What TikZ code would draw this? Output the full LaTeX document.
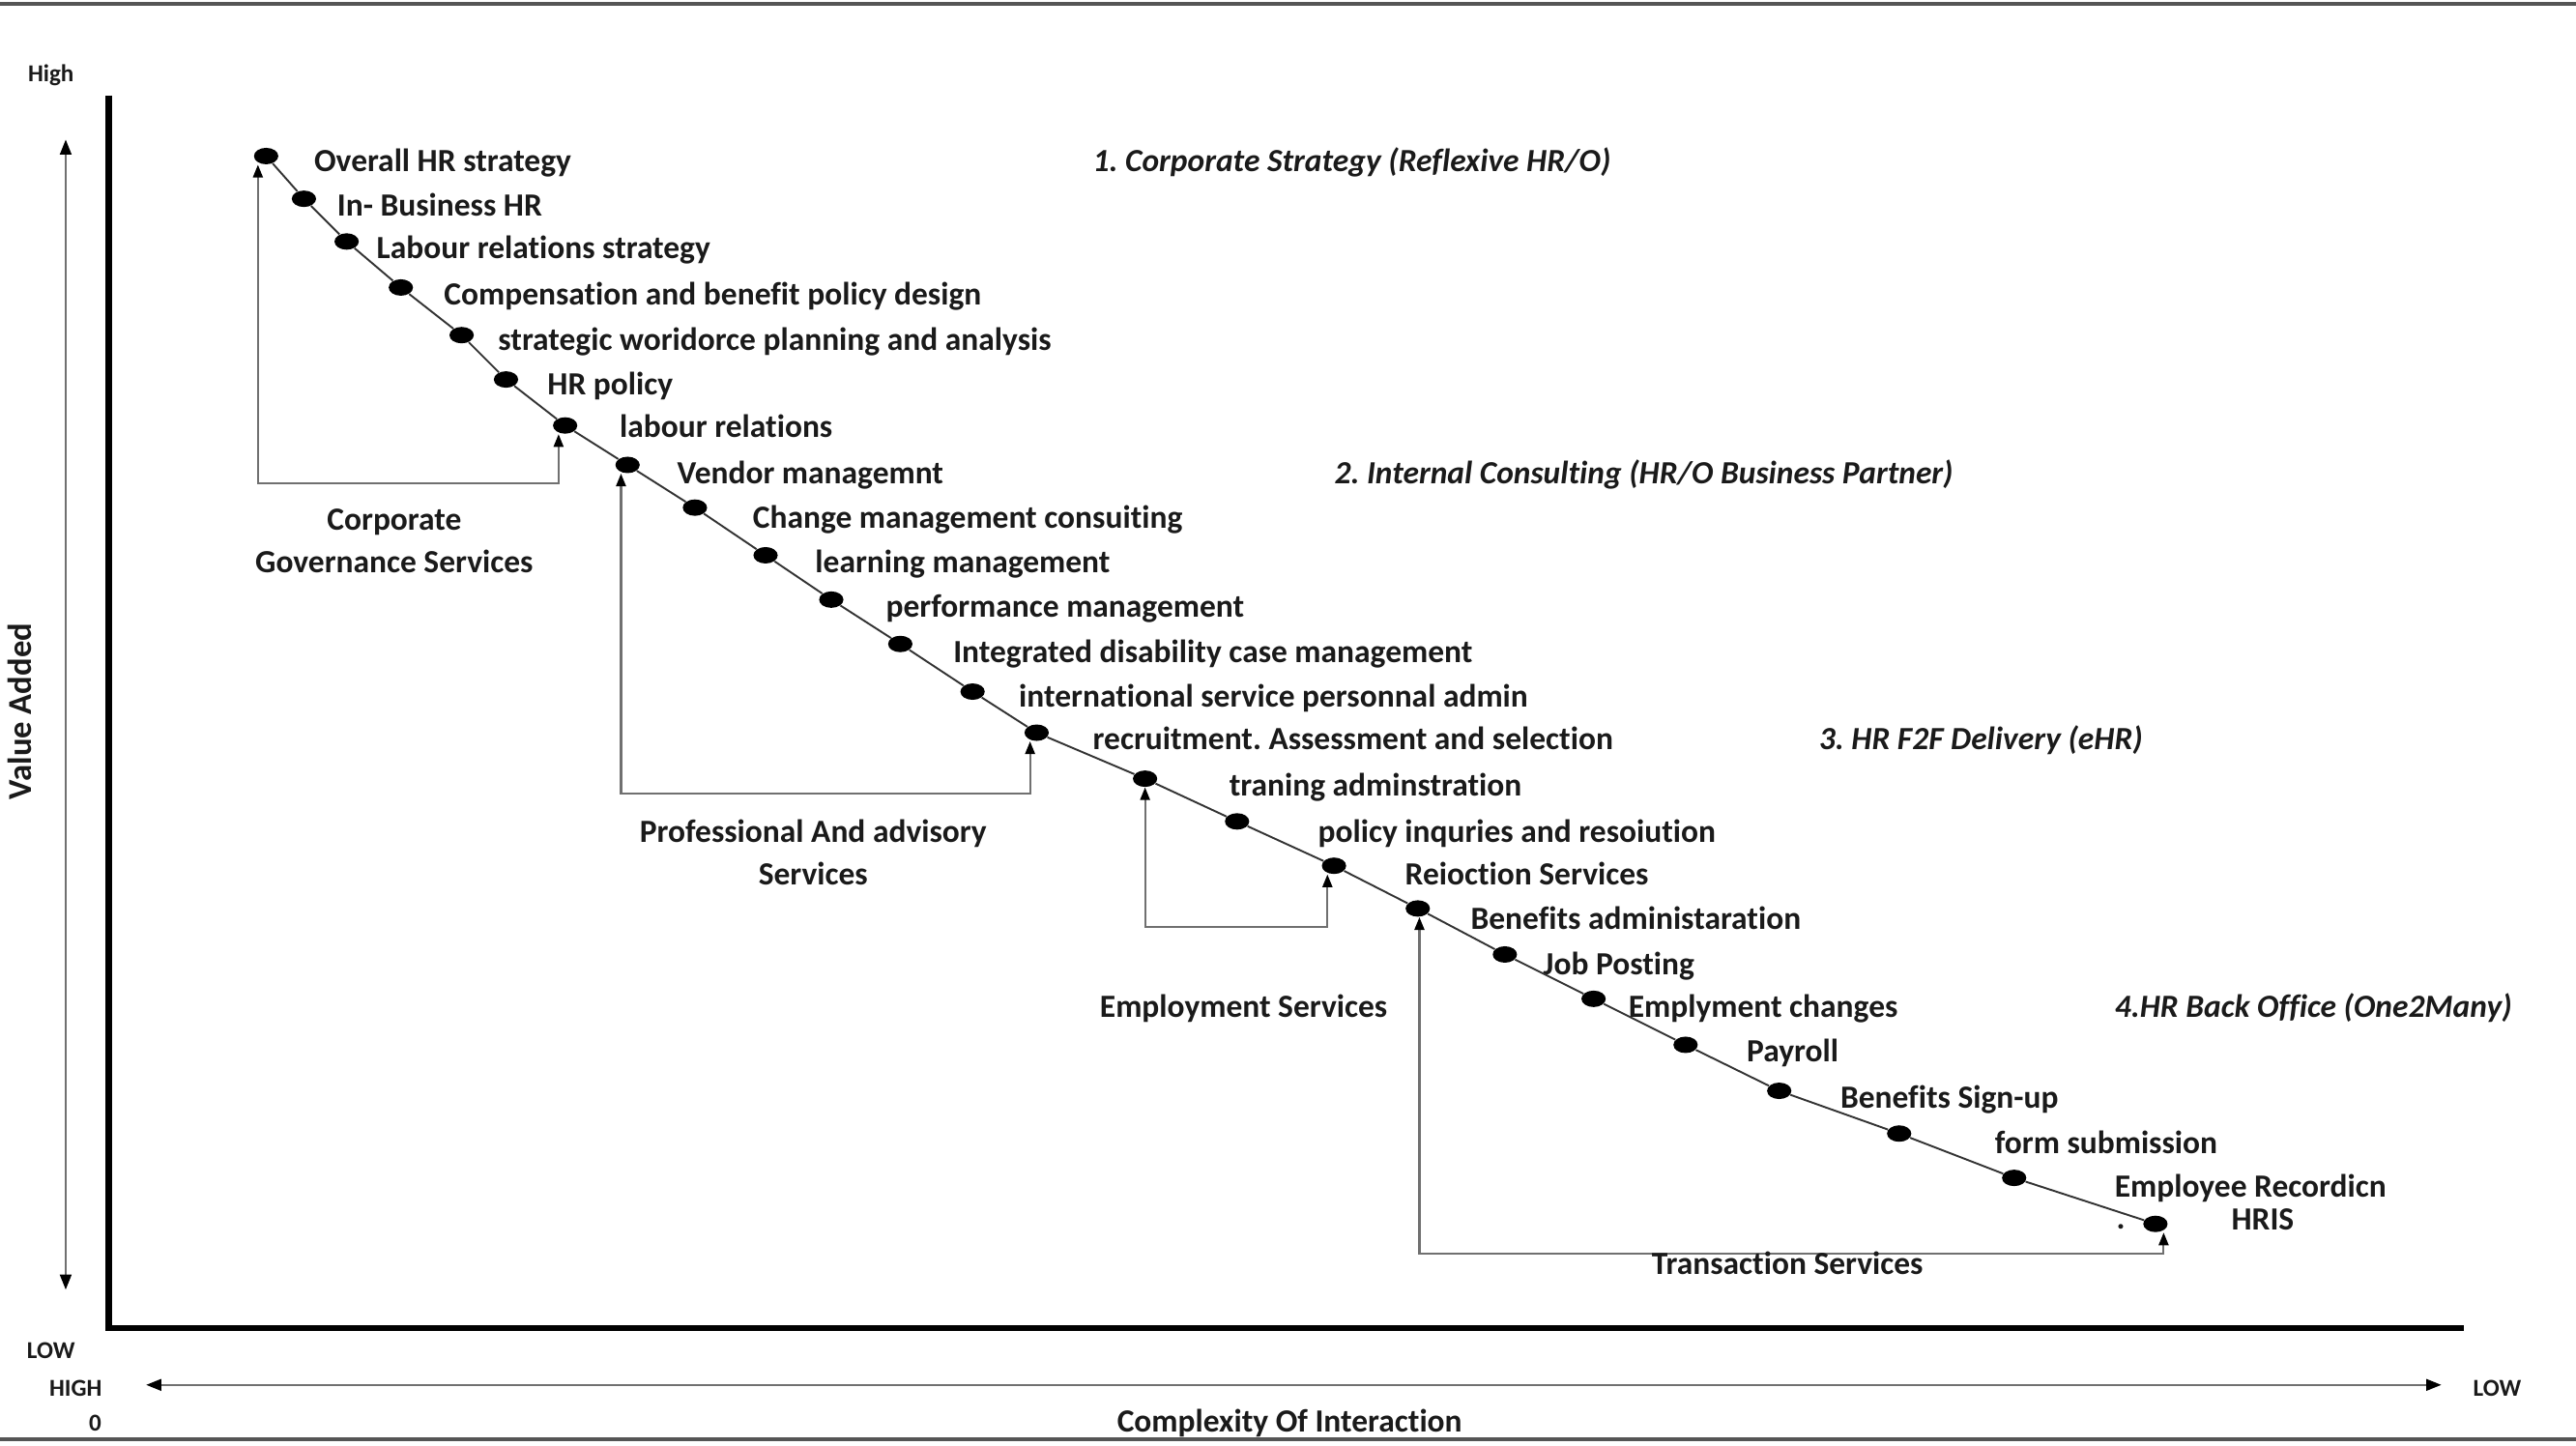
\documentclass[tikz,border=0pt]{standalone}
\usepackage{fontspec}
\setmainfont{Carlito}[Ligatures=NoCommon]
\usetikzlibrary{arrows.meta,calc,shapes.geometric}
\definecolor{txt}{HTML}{1A1A1A}
\definecolor{brk}{HTML}{707070}
\definecolor{dia}{HTML}{333333}
\definecolor{frame}{HTML}{555555}
\frenchspacing
\begin{document}
\begin{tikzpicture}[x=0.025cm,y=-0.025cm,
  lbl/.style={anchor=base west,inner sep=0pt,text=txt,font=\fontsize{14}{16}\selectfont\bfseries},
  clbl/.style={lbl,anchor=base},
  cat/.style={lbl,font=\fontsize{14}{16}\selectfont\bfseries\itshape},
  small/.style={anchor=center,inner sep=0pt,text=txt,font=\fontsize{10.5}{12}\selectfont\bfseries},
  dotn/.style={ellipse,fill=black,draw=none,minimum width=0.37cm,minimum height=0.25cm,inner sep=0pt},
  diag/.style={draw=dia,line width=0.8pt},
  bracket/.style={draw=brk,line width=0.9pt,{Triangle[length=5.5pt,width=4.2pt,color=black]}-{Triangle[length=5.5pt,width=4.2pt,color=black]}},
  axis/.style={draw=black,line width=2.8pt,line join=miter},
  axarrow/.style={draw=brk,line width=0.8pt,{Triangle[length=6.5pt,width=5pt,color=black]}-{Triangle[length=6.5pt,width=5pt,color=black]}},
  border/.style={draw=frame,line width=1.6pt}]
\useasboundingbox (0,0) rectangle (1568,880);
% frame lines
\coordinate (bt1) at (0,2.5); \coordinate (bt2) at (1568,2.5);
\coordinate (bb1) at (0,876); \coordinate (bb2) at (1568,876);
\draw[border] (bt1) -- (bt2);
\draw[border] (bb1) -- (bb2);
% axes
\coordinate (ytop) at (66,58);
\coordinate (orig) at (66,808.5);
\coordinate (xend) at (1500,808.5);
\draw[axis] (ytop) -- (orig) -- (xend);
\coordinate (va1) at (40,85); \coordinate (va2) at (40,785);
\draw[axarrow] (va1) -- (va2);
\coordinate (ha1) at (89,843); \coordinate (ha2) at (1486,843);
\draw[axarrow] (ha1) -- (ha2);
\node[small] (high) at (31,46) {High};
\node[small] (lowy) at (31,822) {LOW};
\node[small] (highx) at (46,845) {HIGH};
\node[small] (zero) at (58,866) {0};
\node[small] (lowx) at (1520,845) {LOW};
\node[anchor=center,inner sep=0pt,text=txt,rotate=90,font=\fontsize{14.5}{16}\selectfont\bfseries] (vadd) at (12,433) {Value Added};
\node[clbl] (cplx) at (785,871.5) {Complexity Of Interaction};
% dots and labels
\foreach \i/\x/\y/\lx/\ly/\t in {
 1/162/95/191/99/{Overall HR strategy},
 2/185/121/205/126/{In- Business HR},
 3/211/147/229/152/{Labour relations strategy},
 4/244/175/270/180/{Compensation and benefit policy design},
 5/281/204/303/208/{strategic woridorce planning and analysis},
 6/308/231/333/235/{HR policy},
 7/344/259/377/261/{labour relations},
 8/382/283/412/289/{Vendor managemnt},
 9/423/309/458/316/{Change management consuiting},
 10/466/338/496/343/{learning management},
 11/506/365/539/370/{performance management},
 12/548/392/580/398/{Integrated disability case management},
 13/592/421/620/425/{international service personnal admin},
 14/631/446/665/451/{recruitment. Assessment and selection},
 15/697/474/748/479/{traning adminstration},
 16/753/500/802/507/{policy inquries and resoiution},
 17/812/527/855/533/{Reioction Services},
 18/863/553/895/560/{Benefits administaration},
 19/916/581/939/588/{Job Posting},
 20/970/608/991/614/{Emplyment changes},
 21/1026/636/1063/641/{Payroll},
 22/1083/664/1120/669/{Benefits Sign-up},
 23/1156/690/1214/697/{form submission},
 24/1226/717/1287/723/{Employee Recordicn},
 25/1312/745/1358/743/{HRIS}}{
  \node[dotn] (d\i) at (\x,\y) {};
  \node[lbl] (l\i) at (\lx,\ly+5.5) {\t};
}
\node[lbl] (pt) at (1288,748) {.};
\foreach \i [remember=\i as \j (initially 1)] in {2,...,25}
  \draw[diag] (d\j) -- (d\i);
% brackets
\coordinate (cgA) at (157,294); \coordinate (cgB) at (340,294);
\draw[bracket] (cgA |- d1.south) -- (cgA) -- (cgB) -- (cgB |- d7.south);
\coordinate (paA) at (378,483); \coordinate (paB) at (627,483);
\draw[bracket] (paA |- d8.south) -- (paA) -- (paB) -- (paB |- d14.south);
\coordinate (esA) at (697,564); \coordinate (esB) at (808,564);
\draw[bracket] (esA |- d15.south) -- (esA) -- (esB) -- (esB |- d17.south);
\coordinate (tsA) at (864,763); \coordinate (tsB) at (1317,763);
\draw[bracket] (tsA |- d18.south) -- (tsA) -- (tsB) -- (tsB |- d25.south);
\node[clbl] (cg1) at (240,322.5) {Corporate};
\node[clbl] (cg2) at (240,348.5) {Governance Services};
\node[clbl] (pa1) at (495,512.5) {Professional And advisory};
\node[clbl] (pa2) at (495,538.5) {Services};
\node[clbl] (es) at (757,619.5) {Employment Services};
\node[clbl] (ts) at (1088,775.5) {Transaction Services};
% categories
\node[cat] (c1) at (665,104.5) {1. Corporate Strategy (Reflexive HR/O)};
\node[cat] (c2) at (812,294.5) {2. Internal Consulting (HR/O Business Partner)};
\node[cat] (c3) at (1107,456.5) {3. HR F2F Delivery (eHR)};
\node[cat] (c4) at (1287,619.5) {4.HR Back Office (One2Many)};
\end{tikzpicture}
\end{document}
